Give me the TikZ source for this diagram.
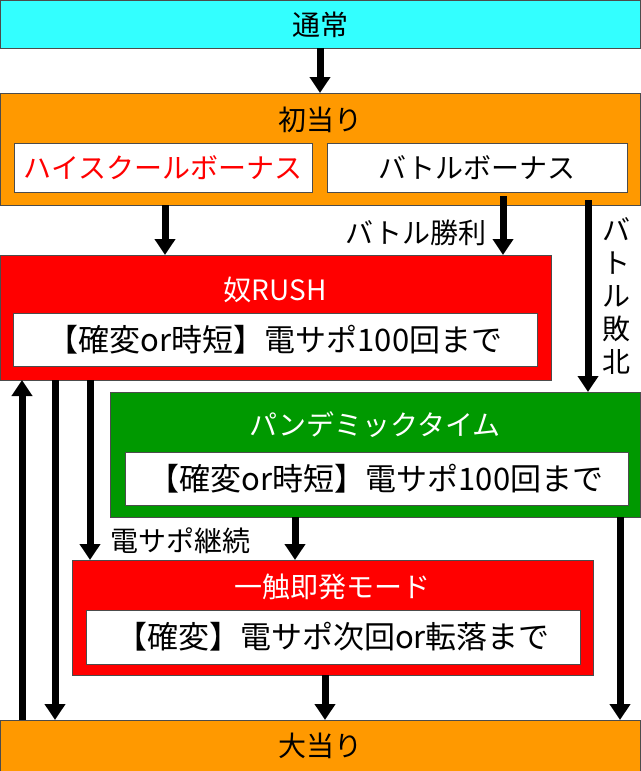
\documentclass[tikz,border=0pt]{standalone}
\usepackage{fontspec}
\setmainfont{Noto Sans CJK JP}
\usetikzlibrary{arrows.meta}
\definecolor{cy}{HTML}{33FFFF}
\definecolor{orn}{HTML}{FF9900}
\definecolor{rd}{HTML}{FF0000}
\definecolor{gr}{HTML}{009900}
\tikzset{
 box/.style={draw=black!70, line width=1pt, inner sep=0pt, anchor=north west},
 ttl/.style={font=\fontsize{28}{28}\selectfont, inner sep=0pt},
 lbl/.style={font=\fontsize{31}{31}\selectfont, inner sep=0pt},
 sml/.style={font=\fontsize{28}{28}\selectfont, inner sep=0pt},
 arr/.style={line width=7pt, -{Triangle[width=20pt,length=16pt]}},
}
\begin{document}
\begin{tikzpicture}[x=1pt,y=-1pt]
\useasboundingbox (0,0) rectangle (640,771);
% boxes
\node[box, fill=cy, minimum width=640pt, minimum height=48pt] (tsu) at (0,0) {};
\node[ttl] at (320,25) {通常};
\node[box, fill=orn, minimum width=640pt, minimum height=112pt] (hatsu) at (0,93) {};
\node[ttl] at (320,120) {初当り};
\node[box, fill=white, minimum width=298pt, minimum height=49pt] (hs) at (14,143) {};
\node[ttl, text=rd] at (163,168) {ハイスクールボーナス};
\node[box, fill=white, minimum width=300pt, minimum height=49pt] (bb) at (327,143) {};
\node[ttl] at (477,168) {バトルボーナス};
\node[box, fill=rd, minimum width=551pt, minimum height=125pt] (rush) at (0,255) {};
\node[ttl, text=white] at (275,290) {奴RUSH};
\node[box, fill=white, minimum width=524pt, minimum height=53pt] (rushi) at (13,313) {};
\node[lbl] at (275,340) {【確変or時短】電サポ100回まで};
\node[box, fill=gr, minimum width=530pt, minimum height=125pt] (pan) at (110,392) {};
\node[ttl, text=white] at (375,425) {パンデミックタイム};
\node[box, fill=white, minimum width=503pt, minimum height=53pt] (pani) at (125,452) {};
\node[lbl] at (376,479) {【確変or時短】電サポ100回まで};
\node[box, fill=rd, minimum width=521pt, minimum height=115pt] (iss) at (72,560) {};
\node[ttl, text=white] at (332,587) {一触即発モード};
\node[box, fill=white, minimum width=494pt, minimum height=54pt] (issi) at (86,610) {};
\node[lbl] at (333,637) {【確変】電サポ次回or転落まで};
\node[box, fill=orn, minimum width=640pt, minimum height=51pt] (oo) at (0,720) {};
\node[ttl] at (320,746) {大当り};
% labels
\node[sml, anchor=east] at (487,233) {バトル勝利};
\node[sml, align=center, font=\fontsize{28}{33}\selectfont] at (616,296) {バ\\ト\\ル\\敗\\北};
\node[sml, anchor=west] at (110,541) {電サポ継続};
% arrows
\draw[arr] (320,48) -- (320,93);
\draw[arr] (165,205) -- (165,255);
\draw[arr] (503,196) -- (503,255);
\draw[arr] (588,200) -- (588,392);
\draw[arr] (55,380) -- (55,720);
\draw[arr] (90,380) -- (90,560);
\draw[arr] (22,720) -- (22,380);
\draw[arr] (295,517) -- (295,560);
\draw[arr] (620,517) -- (620,720);
\draw[arr] (325,675) -- (325,720);
\end{tikzpicture}
\end{document}
